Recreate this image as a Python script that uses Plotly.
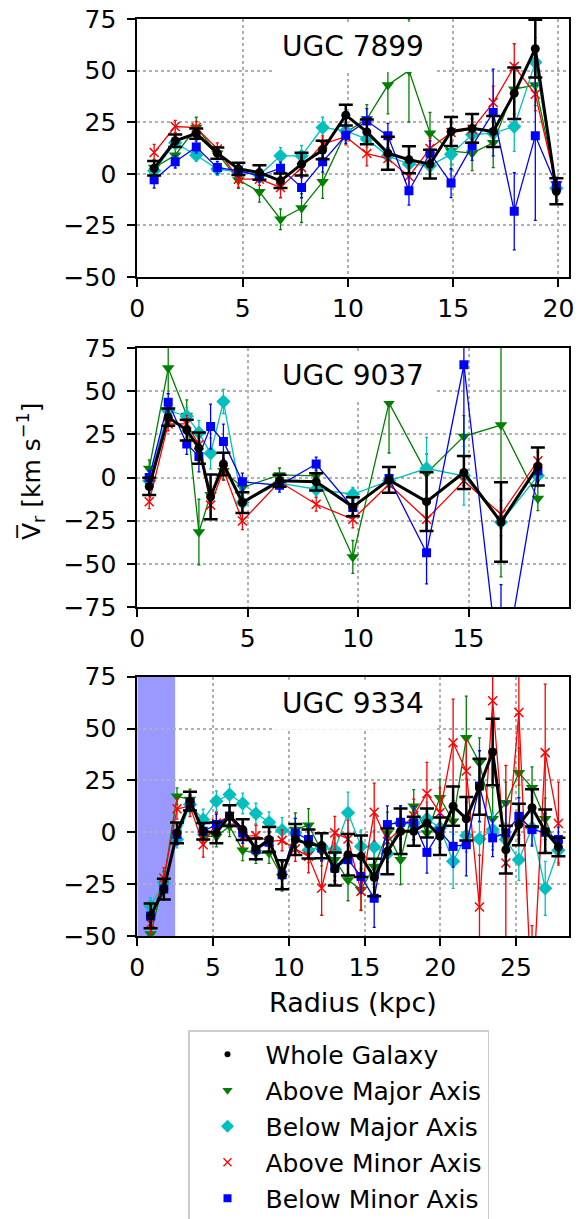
import plotly.graph_objects as go

# ---- UGC 7899 ----
r_7899 = [0.8, 1.8, 2.8, 3.8, 4.8, 5.8, 6.8, 7.8, 8.8, 9.9, 10.9, 11.9, 12.9, 13.9,
          14.9, 15.9, 16.9, 17.9, 18.9, 19.9]
whole_7899 = [2.7, 16, 19.5, 10, 2.4, 0.6, -3.4, 4.7, 11.5, 28.4, 20.3, 10, 6.8, 4.7,
              20.5, 22, 20.5, 39, 60.6, -8.5]
whole_7899_err = [3.5, 3, 2.5, 2.7, 3, 3.5, 3.5, 5.5, 4.5, 5, 6, 8, 6.5, 7, 7, 7, 7.5,
                  12.5, 14, 6.3]
amaj_7899 = [3, 9, 22.4, 10, -3, -8.7, -22, -16.6, -3.9, 20, 26.5, 43, 50, 19.7, 11, 10,
             15, 41, 43, -5]
amaj_7899_err = [4, 5, 5, 3, 4, 5, 5, 7, 8, 4, 7, 14, 25, 10, 9, 8.5, 12, 12, 10, 3]
bmaj_7899 = [1.5, 15, 9, 2.3, 1, -0.6, 8.7, 8.7, 22.4, 20.8, 16.8, 8.7, 4.7, 3.9, 9.5,
             19, 19.7, 22.9, 54, -7]
bmaj_7899_err = [3, 3, 3, 3, 3, 3, 4, 5, 5, 4, 4, 4, 4, 4, 5, 5, 6, 12, 12, 4]
amin_7899 = [10.3, 22.9, 22.4, 12, -2.6, -2.6, -6.6, 3, 14.4, 18, 9.8, 7.4, -1.3, 12.3,
             20, 21.6, 34.5, 52, 38.5, -5.8]
amin_7899_err = [4, 3, 3, 3, 4, 3, 5, 5, 4, 4, 6, 5, 5, 5, 5, 5, 8, 11, 8, 4]
bmin_7899 = [-2.9, 5.8, 13, 3, 1.5, -1, 2.7, -6.6, 5.8, 18.7, 25.6, 18.4, -8.2, 10,
             -4.5, 13.5, 29.7, -18.2, 18.4, -5.8]
bmin_7899_err = [4, 3, 3, 3, 3, 3, 3, 5, 5, 4, 6, 6, 7, 6, 7, 7, 21, 18.7, 41, 4]

# ---- UGC 9037 ----
r_9037 = [0.54, 1.40, 2.24, 2.79, 3.32, 3.90, 4.76, 6.44, 8.10, 9.76, 11.40, 13.10,
          14.79, 16.47, 18.14]
whole_9037 = [-5.2, 34.9, 27.5, 17, -11.2, 7.8, -14.5, -1.9, -2.5, -17, -1.4, -14, 2.9,
              -25.8, 6.4]
whole_9037_err = [5, 5, 6, 9, 13, 6.5, 6, 3.5, 5, 5.5, 7.5, 17, 9.5, 23, 11]
amaj_9037 = [5.2, 63.4, 35.9, -31.6, -10, 3.9, -5.8, 1.5, 1, -46, 43.2, 2.5, 23.8, 30.4,
             -12.2]
amaj_9037_err = [5, 15, 9, 19, 5, 5, 5, 4, 4, 9.5, 29, 11, 12, 88, 7]
bmaj_9037 = [-1.9, 38.8, 35.5, 26, 14, 44, -14.5, -3.3, -6.8, -9.7, -1.9, 5.2, 1, -25.8, 1]
bmaj_9037_err = [4, 5, 5, 7, 9, 7, 5, 4, 4, 4, 4, 18, 17, 8, 6]
amin_9037 = [-14, 31, 31, 19, -16, 4.3, -25.2, -2.5, -15.5, -24.2, -3.9, -24.2, -1.9,
             -21.3, 9.7]
amin_9037_err = [4, 4, 5, 7, 8, 6, 5, 4, 4, 5, 5, 7, 5, 8, 5]
bmin_9037 = [0, 43.6, 19.4, 12.2, 29.5, 20.9, -2.5, -4.5, 7.8, -17.4, -0.6, -43.6, 65.3,
             -122, 3.9]
bmin_9037_err = [4, 5, 6, 9, 13, 10, 5, 4, 4, 4, 5, 18, 70, 60, 6]

# ---- UGC 9334 ----
r_9334 = [0.88, 1.75, 2.62, 3.48, 4.35, 5.22, 6.09, 6.96, 7.83, 8.70, 9.56, 10.43, 11.30,
          12.17, 13.04, 13.91, 14.77, 15.64, 16.51, 17.38, 18.25, 19.12, 19.98, 20.85,
          21.72, 22.59, 23.46, 24.33, 25.19, 26.06, 26.93, 27.80]
whole_9334 = [-40.3, -27.4, -0.3, 15, 0.5, -0.3, 8, 1.3, -8, -3.5, -20.5, -3.5, -5.6,
              -6.5, -17.7, -10.8, -11.6, -21.8, -9.2, 0.5, 0.5, 4.5, -1.9, 12.6, 6.5,
              21.9, 38.7, -8.4, 3.7, 11.8, 0.5, -7.1]
whole_9334_err = [6, 5, 5, 4.5, 4, 5, 5, 5, 5, 6, 7, 7.5, 7, 6, 8, 10, 10, 9, 11, 11, 7,
                  7, 9, 9.5, 10.5, 13.5, 16, 11.5, 10, 9, 10.5, 4.5]
amaj_9334 = [-49, -23.7, 17.4, 15.8, -2, -2, 2.9, -8.7, -10, -10, -21.3, 1.3, 3.4, -9.2,
             -13.2, -23, -27.7, -16.5, -0.3, -13.2, 12.6, -0.3, 16.6, 5.3, 45.6, 33.5,
             6.5, 14.2, 28.7, 21.5, 6.5, -9.7]
amaj_9334_err = [4, 5, 4, 5, 4, 5, 5, 5, 5, 5, 7, 8, 8, 7, 8, 10, 10, 10, 10, 12, 8, 8,
                 9, 10, 20, 12, 15, 10, 12, 10, 10, 5]
bmaj_9334 = [-35.5, -24.5, -3.5, 13.4, 6.1, 15, 18.2, 13.9, 9, 4.8, 1, -0.3, -8.7, -6.8,
             -8.4, 9.4, -6.8, -7.1, -10.3, 4.5, 4.2, 6.5, 2.1, -14, -1.6, -3.2, 1.3,
             -3.5, -13.2, 2.1, -27, -8.7]
bmaj_9334_err = [4, 5, 4, 4, 5, 5, 5, 5, 5, 5, 6, 7, 6, 6, 6, 10, 8, 8, 8, 8, 8, 8, 8,
                 13, 8, 8, 8, 8, 10, 8, 13, 6]
amin_9334 = [-44, -22, 11.3, 12.6, -6, 4.5, 7.7, -2, -1.6, -4.4, -3.9, -8, -11.6, -27,
             -0.3, -3.2, -28.5, 9.7, -4.4, 1.6, 8, 18.7, 9.4, 43.2, 29.5, -36, 63.4,
             -14.8, 57.7, -85, 38.4, 4.2]
amin_9334_err = [5, 5, 5, 5, 6, 5, 5, 5, 5, 5, 5, 6, 8, 13, 8, 9, 9, 14, 10, 10, 8, 15,
                 12, 21, 15, 25, 25, 47, 35, 40, 33, 20]
bmin_9334 = [-40.3, -27.4, -1.1, 14.2, 0.5, 3.7, 7.7, -0.3, -8.4, -4.8, -20.5, -0.3,
             -3.5, -7.6, -17.3, -13.2, -21.3, -31.8, 3.7, 4.8, 4.5, -9.7, 0.5, -6.8, -6,
             22.3, -2.7, -0.3, 7.7, 1.3, 0, -3.5]
bmin_9334_err = [5, 5, 5, 4, 4, 5, 5, 5, 5, 5, 6, 7, 7, 6, 6, 7, 8, 14, 9, 8, 8, 10, 8,
                 10, 15, 17, 9, 15, 9, 8, 9, 6]

galaxy_names = ["UGC 7899", "UGC 9037", "UGC 9334"]
x_ranges = [[0, 20.5], [0, 19.55], [0, 28.5]]
x_ticks = [[0, 5, 10, 15, 20], [0, 5, 10, 15], [0, 5, 10, 15, 20, 25]]
y_ranges = [[-50, 75], [-75, 75], [-50, 75]]
y_ticks = [[-50, -25, 0, 25, 50, 75], [-75, -50, -25, 0, 25, 50, 75],
           [-50, -25, 0, 25, 50, 75]]
bulge_edge_9334 = 2.5

series_labels = ["Whole Galaxy", "Above Major Axis", "Below Major Axis",
                 "Above Minor Axis", "Below Minor Axis"]

panels = [
    (r_7899, [(amaj_7899, amaj_7899_err), (bmaj_7899, bmaj_7899_err),
              (amin_7899, amin_7899_err), (bmin_7899, bmin_7899_err)],
     (whole_7899, whole_7899_err)),
    (r_9037, [(amaj_9037, amaj_9037_err), (bmaj_9037, bmaj_9037_err),
              (amin_9037, amin_9037_err), (bmin_9037, bmin_9037_err)],
     (whole_9037, whole_9037_err)),
    (r_9334, [(amaj_9334, amaj_9334_err), (bmaj_9334, bmaj_9334_err),
              (amin_9334, amin_9334_err), (bmin_9334, bmin_9334_err)],
     (whole_9334, whole_9334_err)),
]

FONT = "DejaVu Sans"
W, H = 584, 1219
colors = ["#008000", "#00bfbf", "#ff0000", "#0000ff"]
sym = ["triangle-down", "diamond", "x-thin", "square"]
msize = [11, 11, 9, 9]

fig = go.Figure()

x_dom = [137.3 / W, 569 / W]
panel_px = [(19, 277), (348, 607), (676.7, 936)]

for i, (r, subsets, whole) in enumerate(panels):
    n = "" if i == 0 else str(i + 1)
    xa, ya = "x" + n, "y" + n
    for (vals, errs), c, s, ms in zip(subsets, colors, sym, msize):
        mk = dict(symbol=s, size=ms, color=c)
        if s == "x-thin":
            mk["line"] = dict(color=c, width=1.5)
        else:
            mk["line"] = dict(width=0)
        fig.add_trace(go.Scatter(
            x=r, y=vals, xaxis=xa, yaxis=ya, mode="lines+markers",
            line=dict(color=c, width=1.3), marker=mk, showlegend=False,
            error_y=dict(type="data", array=errs, visible=True, color=c,
                         thickness=1.3, width=1.5)))
    fig.add_trace(go.Scatter(
        x=r, y=whole[0], xaxis=xa, yaxis=ya, mode="lines+markers",
        line=dict(color="black", width=3), marker=dict(size=9, color="black"),
        showlegend=False,
        error_y=dict(type="data", array=whole[1], visible=True, color="black",
                     thickness=2.5, width=7)))

    top, bot = panel_px[i]
    y_dom = [1 - bot / H, 1 - top / H]
    axis_common = dict(showline=True, linecolor="black", linewidth=2, mirror=True,
                       ticks="outside", ticklen=8, tickwidth=2, tickcolor="black",
                       showgrid=True, gridcolor="#b0b0b0", griddash="dot",
                       gridwidth=1.5, zeroline=False, automargin=False,
                       tickfont=dict(family=FONT, size=25, color="black"))
    fig.layout["xaxis" + n] = dict(domain=x_dom, anchor=ya, range=x_ranges[i],
                                   tickmode="array", tickvals=x_ticks[i], **axis_common)
    fig.layout["yaxis" + n] = dict(domain=y_dom, anchor=xa, range=y_ranges[i],
                                   tickmode="array", tickvals=y_ticks[i],
                                   ticklabelstandoff=6, **axis_common)

    # white box behind the galaxy name
    fig.add_shape(type="rect", xref=xa + " domain", yref=ya + " domain",
                  x0=0.314, x1=0.69, y0=0.795, y1=0.988,
                  fillcolor="white", line=dict(width=0), layer="above")
    fig.add_annotation(text=galaxy_names[i], xref=xa + " domain", yref=ya + " domain",
                       x=0.5, y=0.895, showarrow=False, xanchor="center",
                       yanchor="middle", font=dict(family=FONT, size=28, color="black"))

# shaded inner region of UGC 9334
fig.add_shape(type="rect", xref="x3", yref="y3 domain", x0=0, x1=bulge_edge_9334,
              y0=0, y1=1, fillcolor="rgba(0,0,255,0.4)", line=dict(width=0),
              layer="below")

# legend entries (marker only)
leg_colors = ["black"] + colors
leg_sym = ["circle", "triangle-down", "diamond", "x-thin", "square"]
leg_size = [6, 9, 10, 8, 8]
for k, (lab, c, s, ms) in enumerate(zip(series_labels, leg_colors, leg_sym, leg_size)):
    mk = dict(symbol=s, size=ms, color=c)
    if s == "x-thin":
        mk["line"] = dict(color=c, width=1.3)
    fig.add_trace(go.Scatter(x=[None], y=[None], mode="markers", name=lab,
                             marker=mk, legendgroup=lab, showlegend=True))

fig.add_annotation(text="V\u0305<sub>r</sub> [km s<sup>\u22121</sup>]",
                   xref="paper", yref="paper", x=31 / W, y=1 - 472 / H,
                   textangle=-90, showarrow=False, xanchor="center", yanchor="middle",
                   font=dict(family=FONT, size=25, color="black"))
fig.add_annotation(text="Radius (kpc)", xref="paper", yref="paper",
                   x=353 / W, y=1 - 1002 / H, showarrow=False,
                   xanchor="center", yanchor="middle",
                   font=dict(family=FONT, size=27, color="black"))

fig.update_layout(
    template="none",
    width=W, height=H, margin=dict(l=0, r=0, t=0, b=0, autoexpand=False),
    paper_bgcolor="white", plot_bgcolor="white",
    font=dict(family=FONT, size=25, color="black"),
    legend=dict(x=188 / W, y=1 - 1030 / H, xanchor="left", yanchor="top",
                bgcolor="white", bordercolor="#cccccc", borderwidth=1.5,
                font=dict(family=FONT, size=25, color="black"),
                itemwidth=66, tracegroupgap=0.5),
)

fig.write_html("out.html")
